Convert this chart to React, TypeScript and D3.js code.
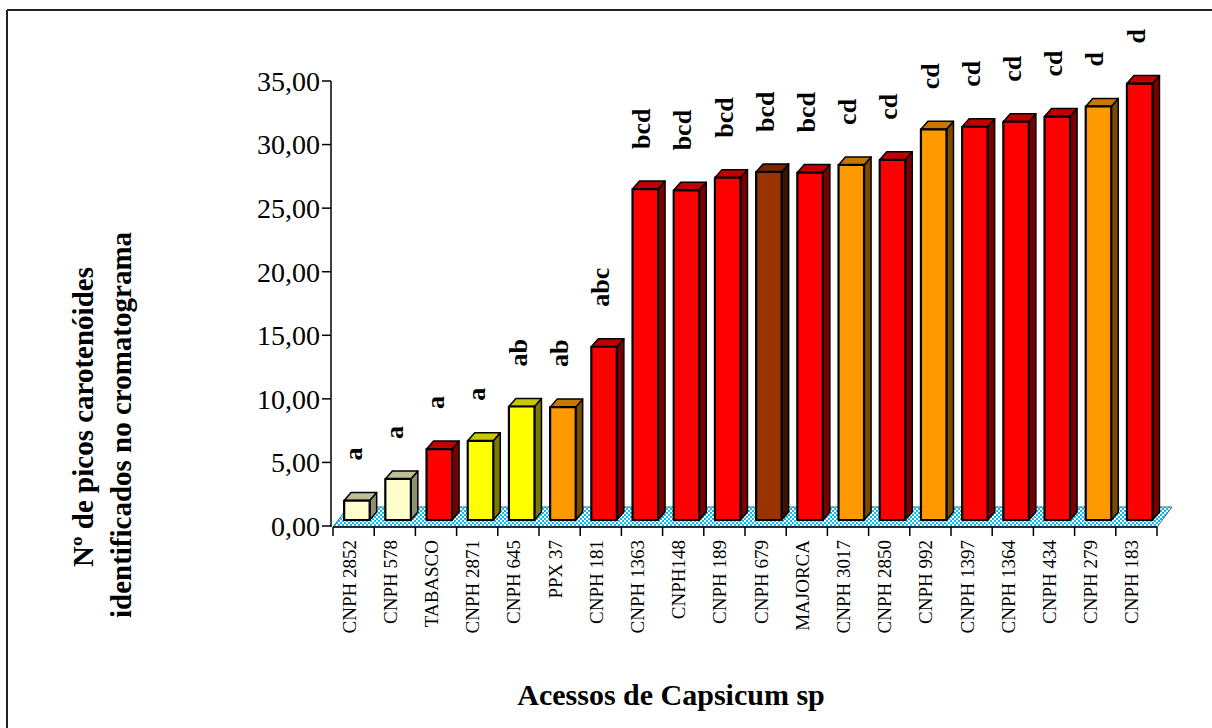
import React from "react";
import * as d3 from "d3";

const categories = [
  "CNPH 2852", "CNPH 578", "TABASCO", "CNPH 2871", "CNPH 645", "PPX 37", "CNPH 181",
  "CNPH 1363", "CNPH148", "CNPH 189", "CNPH 679", "MAJORCA", "CNPH 3017", "CNPH 2850",
  "CNPH 992", "CNPH 1397", "CNPH 1364", "CNPH 434", "CNPH 279", "CNPH 183",
];
const values = [
  2.0, 3.7, 6.05, 6.7, 9.4, 9.35, 14.1, 26.5, 26.4, 27.4, 27.85, 27.8, 28.4, 28.8,
  31.2, 31.4, 31.8, 32.2, 33.0, 34.8,
];
const letters = [
  "a", "a", "a", "a", "ab", "ab", "abc", "bcd", "bcd", "bcd", "bcd", "bcd", "cd", "cd",
  "cd", "cd", "cd", "cd", "d", "d",
];
const fruitColor = [
  "cream", "cream", "red", "yellow", "yellow", "orange", "red", "red", "red", "red",
  "brown", "red", "orange", "red", "orange", "red", "red", "red", "orange", "red",
];
const yTicks = [0, 5, 10, 15, 20, 25, 30, 35];

const palette: Record<string, { front: string; top: string; side: string }> = {
  cream: { front: "#FFFFCC", top: "#BDBD96", side: "#8F8F70" },
  red: { front: "#FF0000", top: "#C00000", side: "#7A0000" },
  yellow: { front: "#FFFF00", top: "#C8C800", side: "#7A7A00" },
  orange: { front: "#FF9900", top: "#C87800", side: "#7A4A00" },
  brown: { front: "#993300", top: "#772800", side: "#3A1400" },
};

const fmt = (v: number) => v.toFixed(2).replace(".", ",");

export default function App() {
  const W = 1212, H = 728;
  const x0 = 333, x1 = 1157;
  const y = d3.scaleLinear().domain([0, 35]).range([526, 81]);
  const xb = d3.scaleBand<string>().domain(categories).range([x0, x1]).padding(0);
  const bw = xb.bandwidth();
  const barInset = bw * 0.27;
  const barW = bw * 0.62;
  const dx = 7, dy = 8;
  const floorFront = y(0) + 1;
  const fdx = 15, fdy = 20;
  const barBottom = y(0) - 6;
  const serif = "'Liberation Serif', 'Times New Roman', serif";

  return (
    <div style={{ position: "fixed", left: 0, top: 0 }}>
      <svg width={W} height={H} style={{ display: "block", background: "#fff" }}>
        <defs>
          <pattern id="floorPat" patternUnits="userSpaceOnUse" width={4} height={4}>
            <rect width={4} height={4} fill="#00BEF5" />
            <rect x={0} y={0} width={2} height={2} fill="#ffffff" />
            <rect x={2} y={2} width={2} height={2} fill="#ffffff" />
          </pattern>
        </defs>
        {/* frame */}
        <line x1={7} y1={10} x2={W} y2={10} stroke="#222" strokeWidth={2} />
        <line x1={7} y1={10} x2={7} y2={H} stroke="#222" strokeWidth={2} />

        {/* floor */}
        <polygon
          points={`${x0},${floorFront} ${x1},${floorFront} ${x1 + fdx},${floorFront - fdy} ${x0 + fdx},${floorFront - fdy}`}
          fill="url(#floorPat)"
          stroke="#3a6a80"
          strokeWidth={1}
        />

        {/* bars */}
        {categories.map((c, i) => {
          const col = palette[fruitColor[i]];
          const left = (xb(c) as number) + barInset;
          const right = left + barW;
          const top = y(values[i]);
          const bot = barBottom;
          return (
            <g key={c} stroke="#000" strokeLinejoin="round">
              <polygon
                points={`${right},${top} ${right + dx},${top - dy} ${right + dx},${bot - dy} ${right},${bot}`}
                fill={col.side}
                strokeWidth={1.5}
              />
              <polygon
                points={`${left},${top} ${left + dx},${top - dy} ${right + dx},${top - dy} ${right},${top}`}
                fill={col.top}
                strokeWidth={1.5}
              />
              <rect x={left} y={top} width={barW} height={bot - top} fill={col.front} strokeWidth={2.2} />
            </g>
          );
        })}

        {/* letters */}
        {categories.map((c, i) => {
          const cx = (xb(c) as number) + barInset + barW / 2 + 5;
          const ty = y(values[i]) - 40;
          return (
            <text
              key={"l" + c}
              transform={`translate(${cx},${ty}) rotate(-90)`}
              fontFamily={serif}
              fontWeight="bold"
              fontSize={26}
              textAnchor="start"
              fill="#000"
            >
              {letters[i]}
            </text>
          );
        })}

        {/* y axis */}
        <line x1={331} y1={y(35)} x2={331} y2={floorFront} stroke="#000" strokeWidth={1.5} />
        {yTicks.map((t) => (
          <g key={"t" + t}>
            <line x1={322} x2={331} y1={y(t)} y2={y(t)} stroke="#000" strokeWidth={1.5} />
            <text
              x={320}
              y={y(t)}
              dy="0.35em"
              textAnchor="end"
              fontFamily={serif}
              fontSize={28}
              fill="#000"
            >
              {fmt(t)}
            </text>
          </g>
        ))}

        {/* x axis */}
        <line x1={x0} x2={x1} y1={floorFront} y2={floorFront} stroke="#000" strokeWidth={1.5} />
        {[...categories.map((c) => xb(c) as number), x1].map((tx, i) => (
          <line key={"xt" + i} x1={tx} x2={tx} y1={floorFront} y2={floorFront + 9} stroke="#000" strokeWidth={1.5} />
        ))}
        {categories.map((c) => {
          const cx = (xb(c) as number) + bw / 2 + 2;
          return (
            <text
              key={"c" + c}
              transform={`translate(${cx},540) rotate(-90)`}
              textAnchor="end"
              fontFamily={serif}
              fontSize={19}
              fill="#000"
            >
              {c}
            </text>
          );
        })}

        {/* titles */}
        <text
          transform="translate(93,417) rotate(-90)"
          textAnchor="middle"
          fontFamily={serif}
          fontWeight="bold"
          fontSize={29}
          fill="#000"
        >
          Nº de picos carotenóides
        </text>
        <text
          transform="translate(131,425) rotate(-90)"
          textAnchor="middle"
          fontFamily={serif}
          fontWeight="bold"
          fontSize={29}
          fill="#000"
        >
          identificados no cromatograma
        </text>
        <text
          x={671}
          y={705}
          textAnchor="middle"
          fontFamily={serif}
          fontWeight="bold"
          fontSize={30}
          fill="#000"
        >
          Acessos de Capsicum sp
        </text>
      </svg>
    </div>
  );
}
